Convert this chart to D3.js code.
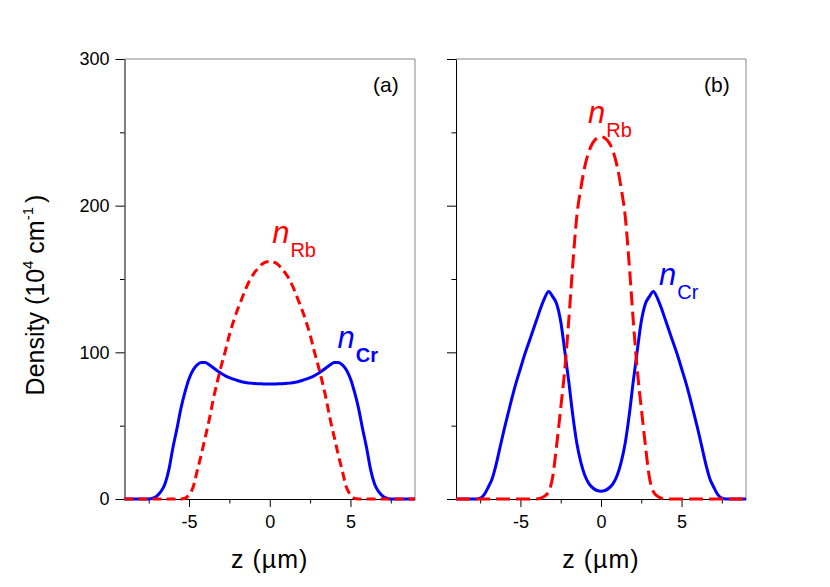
<!DOCTYPE html>
<html lang="en">
<head>
<meta charset="UTF-8">
<title>Density profiles</title>
<style>
    body { margin: 0; background: #fff; }
    text { font-family: "Liberation Sans", Arial, Helvetica, sans-serif; }
    .line-cr { fill: none; stroke: #0000ff; stroke-width: 3; }
    .line-rb { fill: none; stroke: #ff0000; stroke-width: 3; }
    .frame { stroke: #888; stroke-width: 1; }
    .axis path, .axis line { stroke: #000; stroke-width: 1; }
</style>
</head>
<body>
<script src="https://d3js.org/d3.v7.min.js"></script>
<script>

    var zGrid = [-9, -8, -7.75, -7.5, -7.25, -7, -6.75, -6.5, -6.25, -6, -5.75, -5.5, -5.25, -5,
        -4.75, -4.5, -4.25, -4, -3.75, -3.5, -3.25, -3, -2.75, -2.5, -2.25, -2, -1.75, -1.5,
        -1.25, -1, -0.75, -0.5, -0.25, 0, 0.25, 0.5, 0.75, 1, 1.25, 1.5, 1.75, 2, 2.25, 2.5,
        2.75, 3, 3.25, 3.5, 3.75, 4, 4.25, 4.5, 4.75, 5, 5.25, 5.5, 5.75, 6, 6.25, 6.5, 6.75,
        7, 7.25, 7.5, 7.75, 8, 9];

    // panel (a)
    var crA = [0, 0, 0, 0, 0.5, 2, 5, 10, 20, 35, 48, 62, 73, 82, 88, 91.5, 93, 93, 91.5, 89.5,
        87.5, 85.5, 84, 82.8, 81.7, 80.8, 80, 79.5, 79, 78.8, 78.6, 78.5, 78.4, 78.4,
        78.4, 78.5, 78.6, 78.8, 79, 79.5, 80, 80.8, 81.7, 82.8, 84, 85.5, 87.5, 89.5, 91.5, 93,
        93, 91.5, 88, 82, 73, 62, 48, 35, 20, 10, 5, 2, 0.5, 0, 0, 0, 0];
    var rbA = [0, 0, 0, 0, 0, 0, 0, 0, 0, 0, 0, 0, 0.5, 3, 8, 19, 30, 42, 54, 68, 80, 91, 101,
        112, 121, 129, 136, 143, 149, 153.5, 157, 160, 161.5, 162,
        161.5, 160, 157, 153.5, 149, 143, 136, 129, 121, 112, 101, 91, 80, 68, 54, 42, 30, 19,
        8, 3, 0.5, 0, 0, 0, 0, 0, 0, 0, 0, 0, 0, 0, 0];

    // panel (b)
    var crB = [0, 0, 0, 0.5, 3, 8, 14, 24, 36, 48, 59, 70, 80, 89, 98, 106, 114, 122, 130, 137,
        141.5, 138, 133, 121, 101, 80, 57, 38, 25, 16, 10.5, 7.5, 5.8, 5.3,
        5.8, 7.5, 10.5, 16, 25, 38, 57, 80, 101, 121, 133, 138, 141.5, 137, 130, 122, 114, 106,
        98, 89, 80, 70, 59, 48, 36, 24, 14, 8, 3, 0.5, 0, 0, 0];
    var rbB = [0, 0, 0, 0, 0, 0, 0, 0, 0, 0, 0, 0, 0, 0, 0, 0, 0, 0, 0.5, 2, 5, 15, 37, 62, 88,
        122, 160, 193, 212, 227, 237, 243, 246, 247,
        246, 243, 237, 227, 212, 193, 160, 122, 88, 62, 37, 15, 5, 2, 0.5, 0, 0, 0, 0, 0, 0, 0,
        0, 0, 0, 0, 0, 0, 0, 0, 0, 0, 0];

    var yTicks = [0, 100, 200, 300];
    var yMinorTicks = [50, 150, 250];
    var xTicks = [-5, 0, 5];
    var xMinorTicks = [-7.5, -2.5, 2.5, 7.5];

    var width = 830, height = 587;
    var plotTop = 59, plotBottom = 499;

    var svg = d3.select("body").append("svg")
        .attr("width", width)
        .attr("height", height);

    var yScale = d3.scaleLinear().domain([0, 300]).range([plotBottom, plotTop]);
    var plainNum = function(d) { return String(d); }; // hyphen minus like the original

    var panels = [
        {tag: "(a)", left: 124.5, right: 415, cr: crA, rb: rbA, dash: "9,5", labels: true,
         rbLabel: [0.15, 174.5], crLabel: [4.2, 103], crBold: true},
        {tag: "(b)", left: 456, right: 746, cr: crB, rb: rbB, dash: "14,6", labels: false,
         rbLabel: [-0.8, 256.5], crLabel: [3.6, 146], crBold: false}
    ];

    panels.forEach(function(p) {
        var xScale = d3.scaleLinear().domain([-9, 9]).range([p.left, p.right]);
        var g = svg.append("g");

        // grey top and right frame
        g.append("line").attr("class", "frame")
            .attr("x1", p.left).attr("x2", p.right).attr("y1", plotTop).attr("y2", plotTop);
        g.append("line").attr("class", "frame")
            .attr("x1", p.right).attr("x2", p.right).attr("y1", plotTop).attr("y2", plotBottom);

        // y axis, major + minor ticks
        var yAxis = g.append("g").attr("class", "axis")
            .attr("transform", "translate(" + p.left + ",0)")
            .call(d3.axisLeft(yScale).tickValues(yTicks).tickSize(9).tickSizeOuter(0).tickPadding(6)
                .tickFormat(p.labels ? plainNum : ""));
        yAxis.selectAll("text").attr("font-size", 18).attr("font-family", "Liberation Sans, Arial, sans-serif").attr("fill", "#000");
        g.append("g").attr("class", "axis")
            .attr("transform", "translate(" + p.left + ",0)")
            .call(d3.axisLeft(yScale).tickValues(yMinorTicks).tickSize(4.5).tickSizeOuter(0).tickFormat(""))
            .select(".domain").remove();

        // x axis
        var xAxis = g.append("g").attr("class", "axis")
            .attr("transform", "translate(0," + plotBottom + ")")
            .call(d3.axisBottom(xScale).tickValues(xTicks).tickSize(8).tickSizeOuter(0).tickPadding(8.5)
                .tickFormat(plainNum));
        xAxis.selectAll("text").attr("font-size", 18).attr("font-family", "Liberation Sans, Arial, sans-serif").attr("fill", "#000");
        g.append("g").attr("class", "axis")
            .attr("transform", "translate(0," + plotBottom + ")")
            .call(d3.axisBottom(xScale).tickValues(xMinorTicks).tickSize(4.5).tickSizeOuter(0).tickFormat(""))
            .select(".domain").remove();

        // x title
        g.append("text")
            .attr("x", (p.left + p.right) / 2)
            .attr("y", 567.5)
            .attr("text-anchor", "middle")
            .attr("font-size", 25)
            .attr("letter-spacing", 1)
            .text("z (\u00b5m)");

        // curves
        var line = d3.line()
            .x(function(d, i) { return xScale(zGrid[i]); })
            .y(function(d) { return yScale(d); })
            .curve(d3.curveMonotoneX);

        g.append("path").datum(p.cr).attr("class", "line-cr").attr("d", line);
        g.append("path").datum(p.rb).attr("class", "line-rb")
            .attr("stroke-dasharray", p.dash).attr("d", line);

        // panel tag
        g.append("text")
            .attr("x", p.right - 42)
            .attr("y", 91.7)
            .attr("font-size", 21)
            .text(p.tag);

        // curve labels
        var rb = g.append("text")
            .attr("x", xScale(p.rbLabel[0]))
            .attr("y", yScale(p.rbLabel[1]))
            .attr("fill", "#ff0000");
        rb.append("tspan").attr("font-size", 31).attr("font-style", "italic").text("n");
        rb.append("tspan").attr("font-size", 20).attr("dx", 1).attr("dy", 14).text("Rb");

        var cr = g.append("text")
            .attr("x", xScale(p.crLabel[0]))
            .attr("y", yScale(p.crLabel[1]))
            .attr("fill", "#0000ff");
        cr.append("tspan").attr("font-size", 31).attr("font-style", "italic").text("n");
        cr.append("tspan").attr("font-size", 20).attr("dx", 1).attr("dy", 14)
            .attr("font-weight", p.crBold ? "bold" : "normal").text("Cr");
    });

    // y title
    var yTitle = svg.append("text")
        .attr("transform", "translate(43.5,295) rotate(-90)")
        .attr("text-anchor", "middle")
        .attr("font-size", 25);
    yTitle.append("tspan").text("Density (10");
    yTitle.append("tspan").attr("font-size", 15).attr("dy", -11).text("4");
    yTitle.append("tspan").attr("dy", 11).text(" cm");
    yTitle.append("tspan").attr("font-size", 15).attr("dy", -11).text("-1");
    yTitle.append("tspan").attr("dy", 11).attr("dx", 4).text(")");

</script>
</body>
</html>
